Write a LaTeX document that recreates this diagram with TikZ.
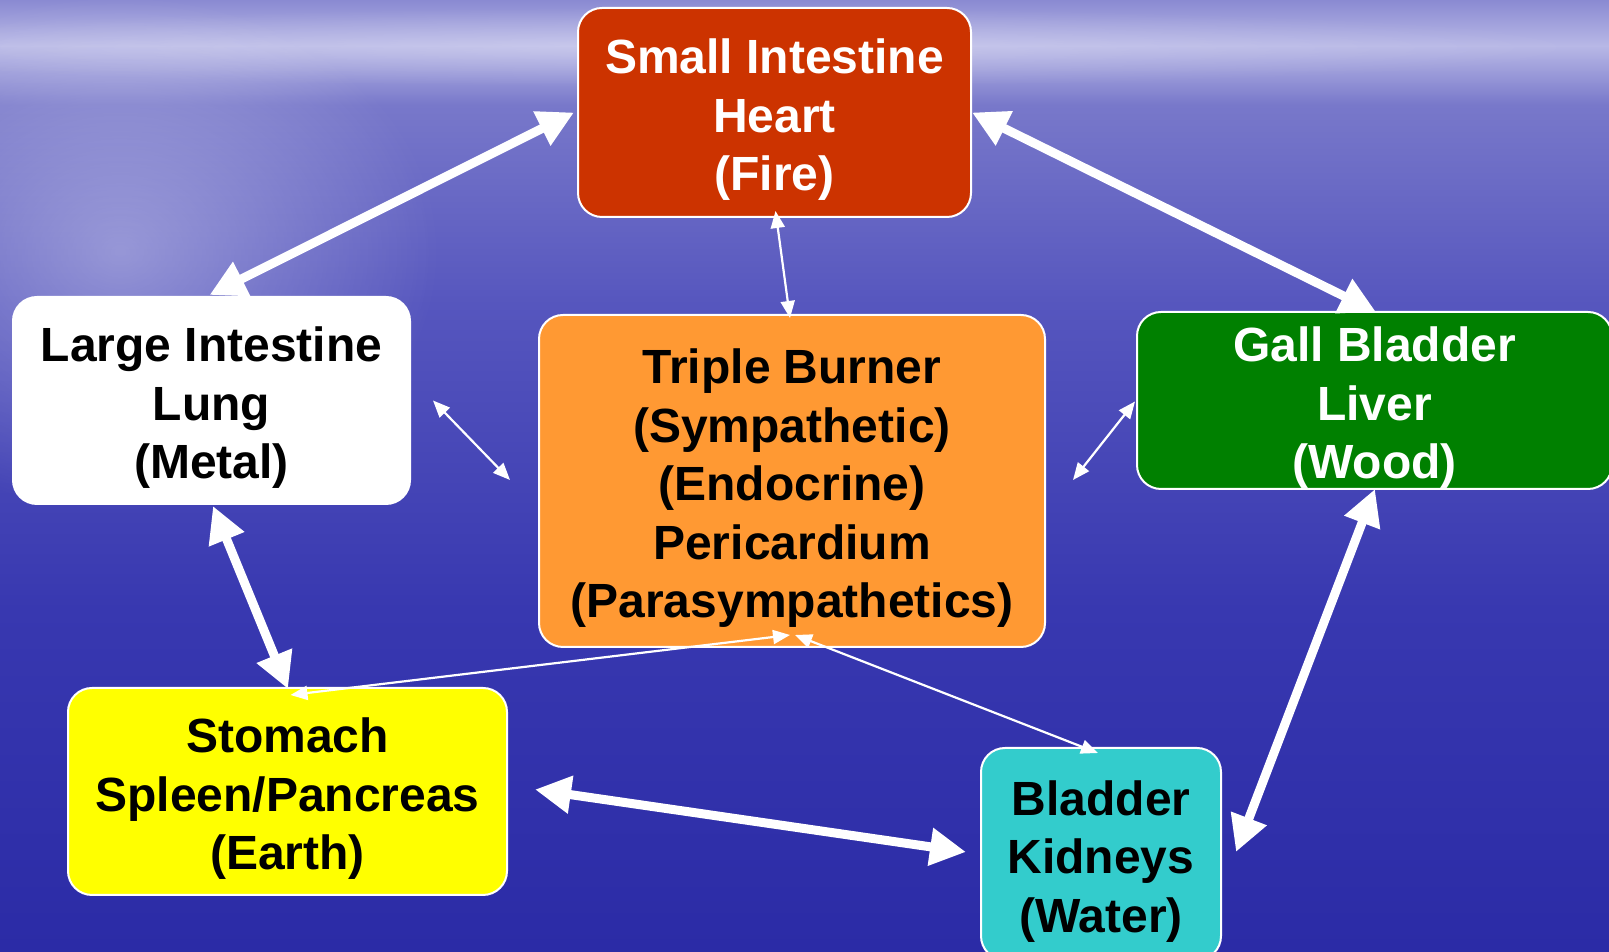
\documentclass[tikz,border=0pt]{standalone}
\usepackage{fontspec}
\setmainfont{Liberation Sans}
\usetikzlibrary{arrows.meta,calc,fadings}
\definecolor{bgbot}{HTML}{2B2BA6}
\definecolor{bgmid}{HTML}{3838B0}
\definecolor{bgup}{HTML}{5656BE}
\definecolor{bghi}{HTML}{7878CA}
\definecolor{bgband}{HTML}{B8B8E6}
\definecolor{bgtop}{HTML}{8A8AD2}
\definecolor{firec}{HTML}{CC3300}
\definecolor{tbc}{HTML}{FF9933}
\definecolor{woodc}{HTML}{008000}
\definecolor{earthc}{HTML}{FFFF00}
\definecolor{waterc}{HTML}{33CCCC}
\pgfdeclareverticalshading{oceanbg}{100bp}{color(0bp)=(bgbot); color(25bp)=(bgbot); color(43bp)=(bgmid); color(59bp)=(bgup); color(69.5bp)=(bghi); color(72.6bp)=(bgband); color(75bp)=(bgtop); color(100bp)=(bgtop)}
\tikzfading[name=glowfade, inner color=transparent!0, outer color=transparent!100]
\newcommand\firststrut{\rule{0pt}{49pt}}
\begin{document}
\begin{tikzpicture}[x=1pt,y=1pt,
  box/.style={draw=white, line width=2pt, rounded corners=24pt, inner sep=0pt, align=center,
    font=\fontsize{48}{58.5}\selectfont\bfseries},
  bigarrow/.style={draw=white, line width=9pt, {Triangle[length=36pt,width=36pt]}-{Triangle[length=36pt,width=36pt]}},
  smallarrow/.style={draw=white, line width=2.2pt, {Triangle[length=17pt,width=14pt]}-{Triangle[length=17pt,width=14pt]}}]
\useasboundingbox (0,0) rectangle (1609,952);
\clip (0,0) rectangle (1609,952);
\shade[shading=oceanbg] (0,0) rectangle (1609,952);
\fill[white, opacity=0.35, path fading=glowfade] (120,700) ellipse (320 and 260);
\fill[white, opacity=0.25, path fading=glowfade] (700,905) ellipse (900 and 40);

\node[box, fill=firec, text=white, minimum width=393pt, minimum height=209pt] (fire) at (774.5,839.5) {\firststrut Small Intestine\\Heart\\(Fire)};
\node[box, fill=white, text=black, minimum width=397pt, minimum height=207pt] (metal) at (211.5,551.5) {\firststrut Large Intestine\\Lung\\(Metal)};
\node[box, fill=tbc, text=black, minimum width=506pt, minimum height=332pt] (tb) at (792,471) {\firststrut Triple Burner\\(Sympathetic)\\(Endocrine)\\Pericardium\\(Parasympathetics)};
\node[box, fill=woodc, text=white, minimum width=475pt, minimum height=177pt] (wood) at (1374.5,551.5) {\firststrut Gall Bladder\\Liver\\(Wood)};
\node[box, fill=earthc, text=black, minimum width=439pt, minimum height=207pt] (earth) at (287.5,160.5) {\firststrut Stomach\\Spleen/Pancreas\\(Earth)};
\node[box, fill=waterc, text=black, minimum width=240pt, minimum height=212pt] (water) at (1101,98) {\firststrut Bladder\\Kidneys\\(Water)};

\draw[bigarrow] ($(fire.west)+(-3,0)$) -- ($(metal.north)+(-2,1)$);
\draw[bigarrow] ($(fire.east)+(0,0)$) -- ($(wood.north)+(1.5,-1)$);
\draw[bigarrow] ($(metal.south)+(1.5,-1)$) -- ($(earth.north)+(0.5,-2)$);
\draw[bigarrow] ($(wood.south)+(0.5,1)$) -- ($(water.east)+(14,2)$);
\draw[bigarrow] ($(earth.east)+(27,2)$) -- ($(water.west)+(-14,2)$);

\draw[smallarrow] ($(fire.south)+(1,7)$) -- ($(tb.north)+(-2,-4)$);
\draw[smallarrow] ($(metal.east)+(22,0)$) -- ($(tb.west)+(-28,1)$);
\draw[smallarrow] ($(wood.west)+(-1,-1)$) -- ($(tb.east)+(27,1)$);
\draw[smallarrow] ($(earth.north)+(3,-8)$) -- ($(tb.south)+(-2,13)$);
\draw[smallarrow] ($(water.north)+(-3,-6)$) -- ($(tb.south)+(3,13)$);
\end{tikzpicture}
\end{document}
